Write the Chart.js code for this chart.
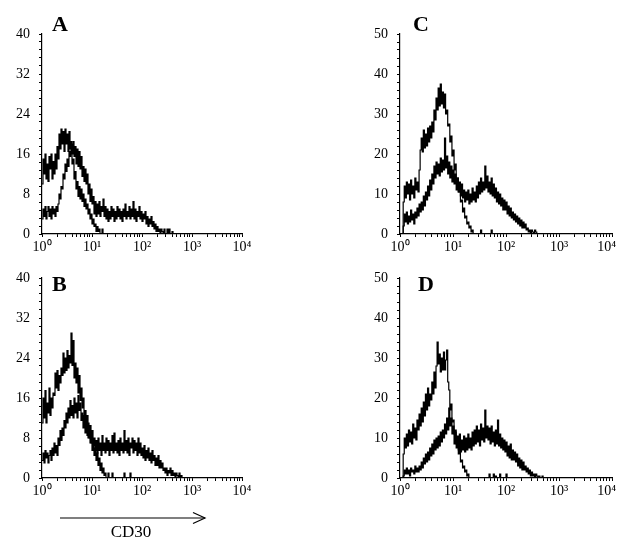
<!DOCTYPE html>
<html>
<head>
<meta charset="utf-8">
<script src="https://cdn.jsdelivr.net/npm/chart.js@4/dist/chart.umd.min.js"></script>
<style>
  html, body { margin: 0; padding: 0; background: #fff; overflow: hidden; }
  body { width: 617px; height: 539px; position: relative; }
  .panel { position: absolute; width: 262px; height: 260px; }
  .panel.right { width: 274px; }
  .letter { position: absolute; font: bold 22px 'Liberation Serif', 'Times New Roman', serif; line-height: 22px; color: #000; }
  #cd30 { position: absolute; left: 81px; top: 523px; width: 100px; text-align: center;
          font: 17px 'Liberation Serif', 'Times New Roman', serif; line-height: 17px; color: #000; }
  svg { position: absolute; left: 0; top: 0; }
</style>
</head>
<body>

<div class="panel" style="left:0;top:0"><canvas id="chartA"></canvas></div>
<div class="panel right" style="left:358px;top:0"><canvas id="chartC"></canvas></div>
<div class="panel" style="left:0;top:244px"><canvas id="chartB"></canvas></div>
<div class="panel right" style="left:358px;top:244px"><canvas id="chartD"></canvas></div>

<div class="letter" style="left:52px;top:13px">A</div>
<div class="letter" style="left:413px;top:13px">C</div>
<div class="letter" style="left:52px;top:273px">B</div>
<div class="letter" style="left:418px;top:273px">D</div>

<svg width="617" height="539">
  <line x1="60" y1="518" x2="205" y2="518" stroke="#000" stroke-width="1.2"/>
  <polyline points="193,512.5 205,518 193,523.5" fill="none" stroke="#000" stroke-width="1.2"/>
</svg>
<div id="cd30">CD30</div>

<script>
// histogram channels: 50 per decade, starting at 10^0
var channelsPerDecade = 50;

var xLabels = ['10\u2070', '10\u00b9', '10\u00b2', '10\u00b3', '10\u2074'];
var yLabelsAB = [0, 8, 16, 24, 32, 40];
var yLabelsCD = [0, 10, 20, 30, 40, 50];

// counts per channel (control = narrow curve, cd30 = broad curve)
var ctrlA = [10,15,12,16,11,14,10.5,15.5,13,16, 11,14.5,12,16,13,17.5,15,20,17,21,
             18,20.5,16.5,21,18,20,16.5,20.5,17,18.5, 14,15,11,12.5,9,10.5,7.5,9.5,7,9,
             6.5,8,5.5,7,5,6,4,5,3,4, 2,3,1.5,2,0.5,1.5,0.5,1,0,0, 1,0];
var cd30A = [3,5,3.5,5.5,3,4.5,5.5,3.5,5,3, 5.5,4,5,3.5,5.5,4.5,6,8,7,9.5,
             9,12,11,14,12.5,15,13.5,16.5,15.5,18, 16,18.5,15.5,17.5,14,17,13.5,16.5,13,15.5,
             11.5,13.5,10.5,13,10,12,8,10,6.5,9, 6,7.5,4,6.5,3.5,6,4,6.5,3.5,5.5,
             4.5,7,3.5,5.5,3,5,2.5,4.5,3,5.5, 3.5,5,2.5,4.5,3,5.5,3.5,5,3,4.5,
             2.5,5,3.5,6,3,4.5,3.5,5.5,3,5, 3.5,6.5,3,5,2.5,4.5,3.5,5.5,3,4.5,
             2.5,4,3,4.5,2,3.5,1.5,3,2,3.5, 1.5,2.5,1,2,0.5,1.5,0.5,1,0,1,
             0.5,0,1,0,0,1,0,1,0,0, 0.5,0];

var ctrlB = [11,16,12,17.5,11,15,13,18,12.5,16, 14,17,16.5,21,18,21.5,17.5,20.5,19,22,
             20.5,25,21,24,21.5,25.5,22,24.5,23,29, 22.5,27.5,20,23,19,22,17,20.5,15.5,18,
             14,16,11.5,13.5,10,12.5,8,10.5,7,9, 5.5,7,4.5,6,3.5,5,2.5,4,1.5,3,
             1,2,0.5,1,0,0,1,0,0,0, 1,0,0,0,0,0,0,0,0,0, 0,0,1,0,0,0,0,0,1,0];
var cd30B = [3.5,5,3,5.5,4,5,3,4.5,5.5,3.5, 6,4.5,7,5,6.5,4.5,8,6.5,9.5,7.5,
             10,8.5,11.5,10,13,11,14,12,15.5,12.5, 14.5,12,16,13,15,12,16.5,13.5,15,11.5,
             13,10,12.5,9,12,8.5,11,8,10.5,7, 9.5,6.5,8,5.5,7.5,5,8,5.5,7,4.5,
             8.5,5.5,7,5,8,5.5,7.5,4.5,7,5.5, 8.5,5,9,5.5,7,5,7.5,4.5,8,5.5,
             7,5,9.5,5.5,7.5,5,8,4.5,7,6, 8,5,7.5,5.5,7,4.5,8,5,7,4.5,
             6,4,6.5,3.5,5.5,4,6,3.5,5,3, 5.5,3.5,4.5,2.5,4,2.5,4.5,2,3.5,2,
             3,1.5,2,1,2,0.5,1.5,1,2,0.5, 1.5,0.5,1,0,1,0.5,0,1,0,0.5, 0];

var ctrlC = [0,0,0,8,12,9,13,10,12.5,8.5, 13.5,10,12,9,14,11,13,10.5,16,21,
             24,20.5,26,21.5,25,22,26.5,23,27,24, 28,25.5,31,28.5,34,31,36.5,32,37.5,32.5,
             35.5,31.5,35,30,31,27,27.5,23,24.5,19.5, 21,16,17.5,13,14,10.5,11.5,8,8.5,5.5,
             6.5,4,4.5,2.5,3,1.5,2,0.5,1,0, 0,0,0,0,0,0,1,0,0,0, 0,0,0,0,0,0,1,0];
var cd30C = [0,0,0,2,5,3,5.5,2.5,4.5,3, 6,3.5,5,2.5,5.5,4,6.5,4.5,7.5,5.5,
             8,6,9.5,7,10.5,8.5,12,9.5,13.5,11, 15,12.5,17,14,18,15,17.5,14.5,19,15.5,
             18.5,16,24,16.5,19.5,15,18,14,17,13, 16,12.5,15,11,14,10.5,13,9.5,12.5,9,
             11,8,10.5,8.5,11,7.5,10,8,11.5,8.5, 10.5,8,12,9,13,10,14,10.5,13,11,
             17,11.5,14.5,10.5,13,10,14,9.5,12.5,9, 11.5,8,10.5,7.5,10,7,9,6,8.5,6,
             8,5,7,4.5,6.5,4,5.5,3.5,5,3, 4.5,2.5,4,2,3.5,1.5,3,1.5,2.5,1,
             1.5,0.5,1,0,1,0.5,0,1,0.5,0];

var ctrlD = [0,0,0,6,10,7.5,11,8,12,9, 11.5,8.5,13.5,10,12.5,9.5,14.5,12,16,13,
             17.5,14,19,15.5,21,17,22.5,18,21,19.5, 24,21,26.5,22.5,28,34,28.5,31,26.5,30,
             27,31.5,27,29.5,32,24,22,17,18.5,14, 14.5,11,12,8.5,9.5,6,7,4,4.5,2.5,
             3,1.5,2,0.5,1,0,0,0,0,0, 0,0,0,0,0,0,0,0,0,0, 0,0,0,0,1,0,0,0,1,0,
             0.5,0,0,0,1,0,0,0,0,0, 1,0];
var cd30D = [0,0,0,0.5,2,1,2.5,1,2,0.5, 2.5,1.5,2,1,3,1.5,2.5,1.5,3,2,
             4,2.5,5,3.5,6,4,6.5,4.5,7.5,5.5, 8.5,6,9.5,7,10,7.5,10.5,8,11.5,9,
             12,10,13.5,11,15,12,17.5,13,15,11, 13,8.5,11.5,7.5,10.5,7,11,6.5,9.5,7,
             10.5,6.5,10,7,11,7.5,10,7,11.5,8, 12,8.5,13,9,12,8,13.5,9.5,12.5,9,
             17,10,13,9.5,12.5,8.5,13,9,11.5,8, 12,8.5,14.5,8,11,7.5,10,7,9.5,6.5,
             9,5.5,8,5,8.5,4.5,7,4.5,6.5,4, 6,3,5,2.5,4.5,2,4,2,3,1.5,
             2.5,1,2,0.5,1.5,0.5,1,0,1,0.5, 0,0.5,0,0,0.5,0];

function toPoints(counts) {
  return counts.map(function (c, i) {
    return { x: Math.pow(10, i / channelsPerDecade), y: c };
  });
}

var serif = "'Liberation Serif', 'Times New Roman', serif";

function makeChart(id, series, yLabels, rightPanel) {
  var yMax = yLabels[yLabels.length - 1];
  var yStep = yLabels[1] / 5;
  new Chart(document.getElementById(id), {
    type: 'line',
    data: {
      datasets: series.map(function (s) {
        return {
          data: toPoints(s),
          borderColor: '#000',
          borderWidth: 1.2,
          pointRadius: 0,
          fill: false,
          stepped: true
        };
      })
    },
    options: {
      responsive: true,
      maintainAspectRatio: false,
      animation: false,
      layout: { padding: { top: 34, right: 20, left: 0, bottom: 0 } },
      plugins: { legend: { display: false }, tooltip: { enabled: false } },
      scales: {
        x: {
          type: 'logarithmic',
          min: 1,
          max: 10000,
          afterFit: function (s) { s.height = 26; },
          afterBuildTicks: function (s) {
            var t = [];
            for (var k = 0; k < 4; k++) {
              for (var m = 1; m < 10; m++) t.push({ value: m * Math.pow(10, k) });
            }
            t.push({ value: 10000 });
            s.ticks = t;
          },
          ticks: {
            autoSkip: false,
            maxRotation: 0,
            padding: 2,
            color: '#000',
            font: { family: serif, size: 14 },
            callback: function (v) {
              var p = Math.log10(v);
              if (Math.abs(p - Math.round(p)) > 1e-6) return '';
              var lab = xLabels[Math.round(p)];
              // last label on the right-hand panels sits left of its tick to stay inside the page
              if (rightPanel && Math.round(p) === 4) lab += '   ';
              return lab;
            }
          },
          grid: { drawOnChartArea: false, tickLength: 3, color: '#000' },
          border: { color: '#000', width: 1.2 }
        },
        y: {
          min: 0,
          max: yMax,
          afterFit: function (s) { s.width = 42; },
          afterBuildTicks: function (s) {
            var t = [];
            for (var i = 0; i <= 25; i++) t.push({ value: i * yStep });
            s.ticks = t;
          },
          ticks: {
            autoSkip: false,
            padding: 9,
            color: '#000',
            font: { family: serif, size: 14 },
            callback: function (v, i) {
              return i % 5 === 0 ? String(yLabels[i / 5]) : '';
            }
          },
          grid: { drawOnChartArea: false, tickLength: 3, color: '#000' },
          border: { color: '#000', width: 1.2 }
        }
      }
    }
  });
}

makeChart('chartA', [ctrlA, cd30A], yLabelsAB, false);
makeChart('chartB', [ctrlB, cd30B], yLabelsAB, false);
makeChart('chartC', [ctrlC, cd30C], yLabelsCD, true);
makeChart('chartD', [ctrlD, cd30D], yLabelsCD, true);
</script>
</body>
</html>
